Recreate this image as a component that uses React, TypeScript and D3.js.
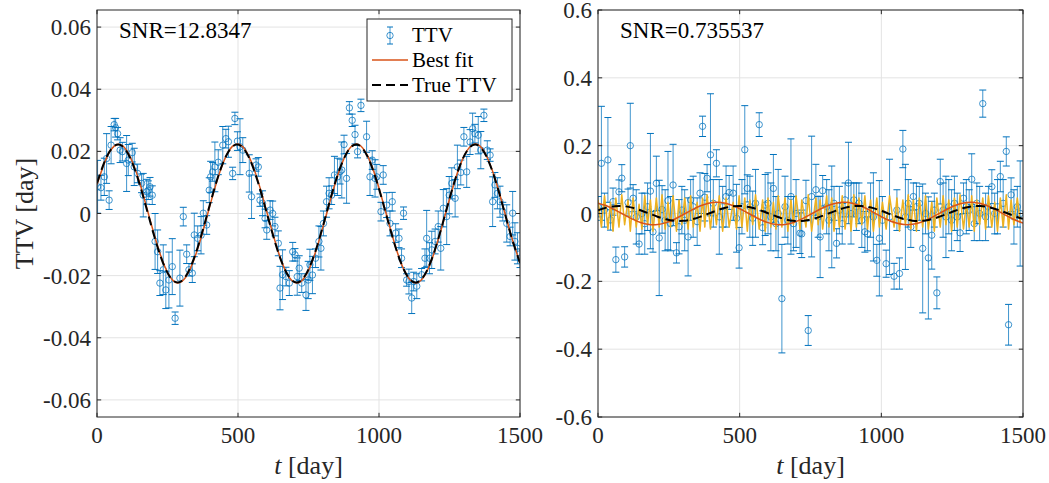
import React from "react";
import * as d3 from "d3";

// ---------------- DATA ----------------
const tLeft = [
  2, 14, 26, 34, 43, 50, 61, 66, 73, 82, 90, 105, 111, 125, 132, 144, 158, 164, 176, 182,
  188, 196, 206, 215, 223, 235, 244, 255, 267, 277, 294, 306, 318, 326, 338, 345, 357, 369, 377,
  389, 398, 403, 410, 418, 430, 446, 457, 466, 481, 489, 498, 507, 517, 540, 548, 564, 572, 578,
  587, 596, 602, 614, 623, 631, 643, 649, 658, 670, 682, 694, 702, 710, 717, 726, 741, 749,
  755, 764, 775, 787, 794, 803, 814, 823, 832, 842, 853, 862, 868, 876, 885, 895, 905, 915, 924,
  936, 956, 968, 976, 986, 992, 1007, 1015, 1027, 1039, 1047, 1059, 1071, 1080, 1087, 1098, 1106,
  1116, 1123, 1134, 1151, 1163, 1169, 1179, 1187, 1199, 1210, 1219, 1228, 1240, 1249, 1258, 1270,
  1278, 1290, 1301, 1311, 1323, 1332, 1340, 1352, 1361, 1372, 1384, 1394, 1403, 1411, 1420, 1429,
  1439, 1453, 1465, 1474, 1482, 1491, 1500,
];
const yLeft = [
  0.0086, 0.0083, 0.0118, 0.0177, 0.0043, 0.022, 0.0286, 0.0276, 0.0257, 0.0204, 0.0199, 0.0161,
  0.0172, 0.0196, 0.015, 0.0129, 0.0097, 0.0059, 0.007, 0.0075, 0.0086, 0.0059, -0.009, -0.0123,
  -0.0224, -0.0181, -0.0246, -0.0214, -0.0171, -0.0337, -0.0208, -0.001, -0.0131, -0.0181, -0.0192,
  -0.0069, -0.008, -0.007, 0.0001,
  -0.0037, 0.0075, 0.0118, 0.0134, 0.015, 0.0165, 0.022, 0.0241, 0.0231, 0.0129, 0.0306, 0.0233,
  0.0215, 0.0204, 0.0129, 0.0054, 0.0156, 0.015, 0.0043, 0.0033, -0.0016, -0.0053, 0.0011, 0.0,
  -0.0042, -0.0096, -0.024, -0.0197, -0.0203, -0.0224, -0.0123, -0.0133, -0.0203, -0.0176, -0.0224,
  -0.0262, -0.0214,
  -0.0165, -0.0198, -0.0144, -0.009, -0.0112, -0.0032, 0.0038, 0.0065, 0.0059, 0.0124, 0.0118,
  0.0135, 0.014, 0.0222, 0.0113, 0.034, 0.03, 0.0254, 0.0199, 0.0348, 0.0247, 0.0118, 0.0172,
  0.0113, 0.0118, 0.0006, 0.0124, 0.0027, -0.0032, 0.0038, -0.0063, -0.008, -0.0144, 0.0001,
  -0.0214, -0.0219, -0.0272, -0.0219,
  -0.0234, -0.0197, -0.0144, -0.008, -0.0144, -0.0117, -0.009, -0.0042, -0.0112, 0.0017, -0.001,
  0.0059, 0.0097, 0.0049, 0.015, 0.0132, 0.0247, 0.0134, 0.023, 0.0273, 0.0257, 0.0252, 0.0204,
  0.0316, 0.0204, 0.0188, 0.0038, 0.0092, 0.0065, 0.0038, 0.0006, -0.0032, -0.0074, 0.0001,
  -0.009, -0.0112, -0.0144,
];
const eLeft = [
  0.0085, 0.004, 0.006, 0.008, 0.003, 0.006, 0.002, 0.003, 0.002, 0.004, 0.003, 0.009, 0.005,
  0.003, 0.006, 0.003, 0.003, 0.007, 0.004, 0.003, 0.003, 0.003, 0.009, 0.007, 0.004, 0.008,
  0.006, 0.009, 0.009, 0.002, 0.009, 0.003, 0.003, 0.002, 0.003, 0.007, 0.004, 0.006, 0.004,
  0.003, 0.004, 0.005, 0.003, 0.008, 0.004, 0.006, 0.003, 0.005, 0.002, 0.002, 0.003, 0.009,
  0.004, 0.006, 0.007, 0.002, 0.003, 0.002, 0.004, 0.003, 0.003, 0.003, 0.004, 0.003, 0.004,
  0.007, 0.008, 0.003, 0.004, 0.003, 0.002, 0.006, 0.004, 0.003, 0.005, 0.006,
  0.005, 0.006, 0.003, 0.005, 0.007, 0.004, 0.005, 0.005, 0.003, 0.006, 0.006, 0.004, 0.009,
  0.003, 0.008, 0.002, 0.002, 0.003, 0.002, 0.002, 0.005, 0.006, 0.003, 0.006, 0.004, 0.003,
  0.003, 0.004, 0.004, 0.003, 0.003, 0.003, 0.003, 0.002, 0.002, 0.004, 0.005, 0.003,
  0.004, 0.002, 0.003, 0.009, 0.005, 0.006, 0.004, 0.005, 0.007, 0.006, 0.009, 0.006, 0.005,
  0.006, 0.007, 0.004, 0.003, 0.005, 0.004, 0.005, 0.003, 0.006, 0.006, 0.002, 0.003, 0.002,
  0.008, 0.004, 0.005, 0.005, 0.003, 0.006, 0.003, 0.007, 0.006, 0.005, 0.003,
];

const tRight = [
  0, 12, 23, 35, 44, 53, 63, 74, 84, 94, 106, 114, 124, 135, 145, 155, 165, 175, 185, 194,
  206, 216, 226, 237, 247, 256, 265, 277, 286, 296, 306, 318, 327, 336, 350, 360, 369, 377, 385, 397,
  407, 418, 428, 440, 452, 463, 477, 489, 498, 508, 518, 527, 536, 546, 556, 569, 581, 590, 600, 610,
  619, 628, 636, 649, 660, 670, 681, 690, 699, 713, 719, 734, 742, 754, 769, 777, 784, 793, 807, 815,
  825, 833, 842, 852, 862, 872, 884, 893, 903, 912, 921, 931, 942, 951, 962, 972, 984, 993, 1004, 1017,
  1029, 1045, 1055, 1064, 1076, 1085, 1095, 1104, 1113, 1124, 1134, 1146, 1156, 1166, 1178, 1187,
  1196, 1208, 1218, 1228, 1238, 1248, 1258, 1268, 1278, 1290, 1300, 1310, 1319, 1328, 1337, 1347,
  1358, 1368, 1378, 1390, 1400, 1410, 1420, 1430, 1441, 1449, 1458, 1468, 1480, 1490,
];
const yRight = [
  0.02, 0.148, 0.01, 0.158, -0.019, 0.035, -0.136, 0.064, 0.104, -0.128,
  0.032, 0.2, 0.045, -0.01, -0.09, 0.0, -0.03, 0.02, 0.066, -0.054,
  0.089, -0.072, 0.012, -0.02, 0.038, -0.03, 0.084, -0.116, -0.039, 0.01,
  -0.02, -0.069, 0.04, 0.02, -0.024, 0.06, 0.257, 0.048, 0.104, 0.173,
  0.03, 0.148, -0.01, 0.02, 0.05, 0.062, 0.06, -0.014, -0.101, 0.02,
  0.188, 0.074, 0.02, -0.014, 0.03, 0.262, -0.042, 0.025, 0.03, -0.01,
  0.074, -0.03, 0.0, -0.251, 0.02, -0.02, 0.05, -0.03, 0.0, -0.058,
  -0.06, 0.038, -0.345, 0.05, 0.07, -0.01, -0.069, 0.067, 0.02, -0.02,
  -0.01, 0.03, -0.088, 0.01, -0.03, 0.04, 0.09, 0.0, 0.04, 0.02,
  0.03, -0.02, -0.054, -0.06, 0.01, -0.01, -0.138, -0.073, -0.02, -0.148,
  -0.01, -0.185, 0.01, -0.177, 0.19, -0.01, 0.03, -0.04, 0.05, 0.02,
  0.03, -0.103, 0.0, -0.131, -0.064, 0.01, -0.234, 0.094, 0.01, -0.01,
  0.02, -0.02, 0.03, -0.01, -0.057, 0.045, 0.02, 0.01, 0.101, -0.03,
  0.03, 0.0, 0.324, -0.01, 0.02, 0.079, 0.0, 0.02, 0.109, 0.03,
  0.183, -0.328, 0.055, -0.01, 0.02, 0.0,
];
const eRight = [
  0.03, 0.168, 0.05, 0.125, 0.03, 0.04, 0.037, 0.035, 0.04, 0.03,
  0.04, 0.125, 0.04, 0.08, 0.03, 0.06, 0.09, 0.07, 0.17, 0.06,
  0.08, 0.17, 0.07, 0.09, 0.145, 0.08, 0.12, 0.03, 0.08, 0.07,
  0.09, 0.115, 0.06, 0.09, 0.07, 0.06, 0.03, 0.07, 0.04, 0.18,
  0.07, 0.04, 0.11, 0.06, 0.09, 0.05, 0.08, 0.1, 0.06, 0.08,
  0.13, 0.04, 0.09, 0.08, 0.1, 0.035, 0.05, 0.09, 0.09, 0.1,
  0.1, 0.08, 0.13, 0.16, 0.09, 0.07, 0.17, 0.08, 0.1, 0.06,
  0.07, 0.06, 0.044, 0.178, 0.075, 0.06, 0.12, 0.045, 0.08, 0.09,
  0.15, 0.05, 0.043, 0.07, 0.06, 0.05, 0.12, 0.09, 0.05, 0.07,
  0.06, 0.08, 0.06, 0.05, 0.08, 0.13, 0.047, 0.17, 0.07, 0.04,
  0.17, 0.038, 0.06, 0.046, 0.055, 0.155, 0.07, 0.06, 0.04, 0.07,
  0.05, 0.19, 0.06, 0.18, 0.1, 0.05, 0.047, 0.066, 0.08, 0.12,
  0.08, 0.09, 0.08, 0.07, 0.055, 0.045, 0.08, 0.06, 0.075, 0.05,
  0.06, 0.08, 0.04, 0.07, 0.06, 0.05, 0.06, 0.08, 0.045, 0.07,
  0.043, 0.06, 0.05, 0.08, 0.06, 0.155,
];
const yYellow = [
  0.04, -0.04, 0.052, -0.046, 0.033, -0.052, 0.046, -0.04, 0.055, -0.033,
  0.04, -0.052, 0.046, -0.04, 0.027, -0.046, 0.052, -0.033, 0.04, -0.052,
  0.046, -0.04, 0.055, -0.046, 0.033, -0.04, 0.052, -0.052, 0.04, -0.033,
  0.046, -0.046, 0.052, -0.04, 0.033, -0.052, 0.046, -0.04, 0.055, -0.046,
  0.04, -0.033, 0.052, -0.052, 0.046, -0.04, 0.033, -0.046, 0.052, -0.04,
  0.046, -0.052, 0.04, -0.033, 0.055, -0.046, 0.04, -0.052, 0.046, -0.04,
  0.033, -0.046, 0.052, -0.04, 0.046, -0.052, 0.04, -0.033, 0.052, -0.046,
  0.04, -0.04, 0.055, -0.052, 0.046, -0.033, 0.04, -0.046, 0.052, -0.04,
  0.046, -0.052, 0.033, -0.04, 0.052, -0.046, 0.04, -0.052, 0.055, -0.04,
  0.046, -0.033, 0.052, -0.046, 0.04, -0.052, 0.046, -0.04, 0.033, -0.046,
  0.052, -0.04, 0.046, -0.052, 0.04, -0.033, 0.055, -0.046, 0.04, -0.052,
  0.046, -0.04, 0.052, -0.046, 0.033, -0.052, 0.046, -0.04, 0.052, -0.033,
  0.04, -0.052, 0.046, -0.04, 0.055, -0.046, 0.033, -0.04, 0.052, -0.052,
  0.04, -0.033, 0.046, -0.046, 0.052, -0.04, 0.033, -0.052, 0.046, -0.04,
  0.055, -0.046, 0.04, -0.033, 0.046, -0.027,
];

const tModel = [
  0, 30, 60, 90, 120, 150, 180, 210, 240, 270, 300, 330, 360, 390, 420, 450, 480, 510, 540, 570,
  600, 630, 660, 690, 720, 750, 780, 810, 840, 870, 900, 930, 960, 990, 1020, 1050, 1080, 1110,
  1140, 1170, 1200, 1230, 1260, 1290, 1320, 1350, 1380, 1410, 1440, 1470, 1500,
];
const trueTTV = [
  0.00975, 0.0174, 0.02165, 0.02165, 0.0174, 0.00975, 0.00016, -0.00946, -0.0172, -0.02158,
  -0.02172, -0.01759, -0.01004, -0.00049, 0.00916, 0.01701, 0.02151, 0.02178, 0.0178, 0.01031,
  0.00082, -0.00885, -0.01679, -0.02141, -0.02185, -0.01799, -0.01061, -0.00114, 0.00856, 0.01651,
  0.02132, 0.0219, 0.01818, 0.01089, 0.00147, -0.00824, -0.01637, -0.02123, -0.02195, -0.01837,
  -0.01118, -0.00179, 0.00796, 0.01612, 0.02113, 0.022, 0.01855, 0.01146, 0.00212, -0.00764,
  -0.01592,
];
const fitLeft = [
  0.0093, 0.0171, 0.0216, 0.02185, 0.0178, 0.0103, 0.0007, -0.009, -0.017, -0.0216,
  -0.02195, -0.01795, -0.0105, -0.00095, 0.0088, 0.0169, 0.0216, 0.022, 0.01815, 0.01075,
  0.00125, -0.0085, -0.0167, -0.0215, -0.0221, -0.0183, -0.01095, -0.0015, 0.0083, 0.01645,
  0.0214, 0.0221, 0.01845, 0.0112, 0.00175, -0.00805, -0.01635, -0.02135, -0.02215, -0.0186,
  -0.0114, -0.002, 0.0078, 0.01605, 0.0212, 0.0222, 0.01875, 0.01165, 0.0023, -0.0075,
  -0.01585,
];
const fitRight = [
  0.0305, 0.0227, 0.0109, -0.0028, -0.016, -0.0264, -0.0322, -0.0324, -0.0268, -0.0168,
  -0.0037, 0.01, 0.022, 0.0301, 0.033, 0.0301, 0.022, 0.01, -0.0037, -0.0168,
  -0.0268, -0.0324, -0.0322, -0.0263, -0.0159, -0.0027, 0.011, 0.0227, 0.0305, 0.033,
  0.0297, 0.0213, 0.0091, -0.0046, -0.0176, -0.0274, -0.0326, -0.032, -0.0258, -0.0152,
  -0.0018, 0.0118, 0.0234, 0.0309, 0.033, 0.0293, 0.0206, 0.0083, -0.0055, -0.0183,
  -0.0279,
];

const xTicks = [0, 500, 1000, 1500];
const xTickLabels = ["0", "500", "1000", "1500"];
const yTicksLeft = [-0.06, -0.04, -0.02, 0, 0.02, 0.04, 0.06];
const yTickLabelsLeft = ["-0.06", "-0.04", "-0.02", "0", "0.02", "0.04", "0.06"];
const yTicksRight = [-0.6, -0.4, -0.2, 0, 0.2, 0.4, 0.6];
const yTickLabelsRight = ["-0.6", "-0.4", "-0.2", "0", "0.2", "0.4", "0.6"];
const legendLabels = ["TTV", "Best fit", "True TTV"];
const snrLeft = "SNR=12.8347";
const snrRight = "SNR=0.735537";

// ---------------- STYLE ----------------
const FONT = "'Liberation Serif', 'Times New Roman', serif";
const BLUE = "#0072BD";
const ORANGE = "#D95319";
const YELLOW = "#EDB120";
const AXIS = "#262626";
const GRID = "#E3E3E3";

type PanelProps = {
  x0: number; x1: number; y0: number; y1: number;
  yDomain: [number, number];
  yTicks: number[]; yTickLabels: string[];
  t: number[]; y: number[]; e: number[];
  fit: number[]; yellow?: number[];
  snr: string; snrX: number;
  yLabel?: string; id: string;
  legend?: boolean;
};

function Panel(p: PanelProps) {
  const x = d3.scaleLinear().domain([0, 1500]).range([p.x0, p.x1]);
  const y = d3.scaleLinear().domain(p.yDomain).range([p.y1, p.y0]);
  const line = d3
    .line<[number, number]>()
    .x((d) => x(d[0]))
    .y((d) => y(d[1]))
    .curve(d3.curveNatural);
  const lineLin = d3
    .line<[number, number]>()
    .x((d) => x(d[0]))
    .y((d) => y(d[1]));
  const truePts = tModel.map((t, i) => [t, trueTTV[i]] as [number, number]);
  const fitPts = tModel.map((t, i) => [t, p.fit[i]] as [number, number]);
  const tl = 4.2;
  const cap = 3.5;
  const cx = (p.x0 + p.x1) / 2;
  const cy = (p.y0 + p.y1) / 2;
  return (
    <g>
      <defs>
        <clipPath id={p.id}>
          <rect x={p.x0} y={p.y0} width={p.x1 - p.x0} height={p.y1 - p.y0} />
        </clipPath>
      </defs>
      <rect x={p.x0} y={p.y0} width={p.x1 - p.x0} height={p.y1 - p.y0} fill="#fff" />
      {xTicks.map((v) => (
        <line key={"gx" + v} x1={x(v)} x2={x(v)} y1={p.y0} y2={p.y1} stroke={GRID} strokeWidth={1} />
      ))}
      {p.yTicks.map((v) => (
        <line key={"gy" + v} x1={p.x0} x2={p.x1} y1={y(v)} y2={y(v)} stroke={GRID} strokeWidth={1} />
      ))}
      <g clipPath={`url(#${p.id})`}>
        <g stroke={BLUE} strokeWidth={1} fill="none">
          {p.t.map((t, i) => {
            const xx = x(t);
            const ya = y(p.y[i] + p.e[i]);
            const yb = y(p.y[i] - p.e[i]);
            return (
              <g key={"eb" + i}>
                <line x1={xx} x2={xx} y1={ya} y2={yb} strokeOpacity={0.75} />
                <line x1={xx - cap} x2={xx + cap} y1={ya} y2={ya} />
                <line x1={xx - cap} x2={xx + cap} y1={yb} y2={yb} />
                <circle cx={xx} cy={y(p.y[i])} r={3.2} strokeOpacity={0.75} />
              </g>
            );
          })}
        </g>
        {p.yellow && (
          <path
            d={lineLin(p.t.map((t, i) => [t, p.yellow![i]] as [number, number])) || ""}
            fill="none"
            stroke={YELLOW}
            strokeWidth={1.5}
            strokeLinejoin="round"
          />
        )}
        <path d={line(fitPts) || ""} fill="none" stroke={ORANGE} strokeWidth={1.5} />
        <path d={line(truePts) || ""} fill="none" stroke="#000" strokeWidth={2} strokeDasharray="9,5" />
      </g>
      <g stroke={AXIS} strokeWidth={1}>
        {xTicks.map((v) => (
          <g key={"tx" + v}>
            <line x1={x(v)} x2={x(v)} y1={p.y1} y2={p.y1 - tl} />
            <line x1={x(v)} x2={x(v)} y1={p.y0} y2={p.y0 + tl} />
          </g>
        ))}
        {p.yTicks.map((v) => (
          <g key={"ty" + v}>
            <line x1={p.x0} x2={p.x0 + tl} y1={y(v)} y2={y(v)} />
            <line x1={p.x1} x2={p.x1 - tl} y1={y(v)} y2={y(v)} />
          </g>
        ))}
        <rect x={p.x0} y={p.y0} width={p.x1 - p.x0} height={p.y1 - p.y0} fill="none" />
      </g>
      <g fontFamily={FONT} fontSize={23} fill={AXIS}>
        {xTicks.map((v, i) => (
          <text key={"lx" + v} x={x(v)} y={p.y1 + 26} textAnchor="middle">
            {xTickLabels[i]}
          </text>
        ))}
        {p.yTicks.map((v, i) => (
          <text key={"ly" + v} x={p.x0 - 6} y={y(v) + 8} textAnchor="end">
            {p.yTickLabels[i]}
          </text>
        ))}
      </g>
      <text x={cx} y={p.y1 + 57} textAnchor="middle" fontFamily={FONT} fontSize={26} fill={AXIS}>
        <tspan fontStyle="italic">t</tspan>
        <tspan> [day]</tspan>
      </text>
      {p.yLabel && (
        <text
          transform={`translate(${p.x0 - 64},${cy}) rotate(-90)`}
          textAnchor="middle"
          fontFamily={FONT}
          fontSize={26}
          fill={AXIS}
        >
          {p.yLabel}
        </text>
      )}
      <text x={p.snrX} y={p.y0 + 28} fontFamily={FONT} fontSize={23} fill="#000">
        {p.snr}
      </text>
      {p.legend && (
        <g>
          <rect x={367} y={19} width={145} height={82} fill="#fff" stroke={AXIS} strokeWidth={1} />
          <g stroke={BLUE} strokeWidth={1}>
            <line x1={390} x2={390} y1={27} y2={44} strokeOpacity={0.75} />
            <line x1={387} x2={393} y1={27} y2={27} />
            <line x1={387} x2={393} y1={44} y2={44} />
            <circle cx={390} cy={35.5} r={3.2} fill="none" strokeOpacity={0.75} />
          </g>
          <line x1={372} x2={408} y1={60} y2={60} stroke={ORANGE} strokeWidth={1.5} />
          <line x1={372} x2={408} y1={85} y2={85} stroke="#000" strokeWidth={2} strokeDasharray="9,5" />
          <g fontFamily={FONT} fontSize={21} fill="#000">
            <text x={412} y={42}>{legendLabels[0]}</text>
            <text x={412} y={67}>{legendLabels[1]}</text>
            <text x={412} y={92}>{legendLabels[2]}</text>
          </g>
        </g>
      )}
    </g>
  );
}

export default function App() {
  return (
    <svg width={1049} height={483} style={{ display: "block", position: "absolute", left: 0, top: 0 }}>
      <rect x={0} y={0} width={1049} height={483} fill="#fff" />
      <Panel
        id="clipL"
        x0={97} x1={520} y0={10} y1={417}
        yDomain={[-0.0655, 0.0655]}
        yTicks={yTicksLeft}
        yTickLabels={yTickLabelsLeft}
        t={tLeft} y={yLeft} e={eLeft}
        fit={fitLeft}
        snr={snrLeft} snrX={119}
        yLabel="TTV [day]"
        legend
      />
      <Panel
        id="clipR"
        x0={598} x1={1023} y0={10} y1={417}
        yDomain={[-0.6, 0.6]}
        yTicks={yTicksRight}
        yTickLabels={yTickLabelsRight}
        t={tRight} y={yRight} e={eRight}
        fit={fitRight}
        yellow={yYellow}
        snr={snrRight} snrX={620}
      />
    </svg>
  );
}
